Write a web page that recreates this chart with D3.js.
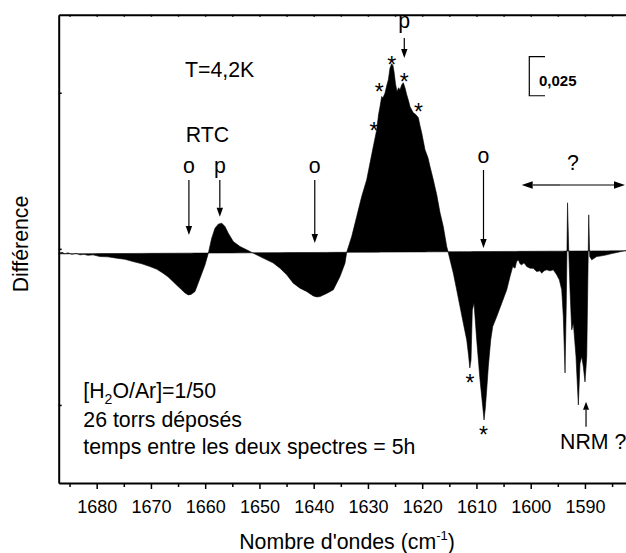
<!DOCTYPE html>
<html>
<head>
<meta charset="utf-8">
<script src="https://cdn.jsdelivr.net/npm/d3@7"></script>
<style>
  html, body { margin: 0; padding: 0; background: #fff; }
  svg { display: block; font-family: "Liberation Sans", Arial, Helvetica, sans-serif; }
</style>
</head>
<body>
<svg id="chart" width="626" height="553"></svg>
<script>
// Difference spectrum (H2O/Ar matrix, 4.2 K), bending region, in absorbance units
const wavenumbers = [
  1687.00, 1686.39, 1685.84, 1685.29, 1684.55, 1683.81, 1683.07, 1682.34, 1681.60, 1680.68,
  1679.39, 1677.91, 1676.31, 1674.78, 1673.30, 1671.65, 1670.17, 1668.88, 1667.77, 1666.85,
  1665.93, 1665.19, 1664.33, 1663.72, 1663.11, 1662.61, 1661.88, 1660.95, 1660.03, 1659.42,
  1658.80, 1658.19, 1657.58, 1656.95, 1656.35, 1655.74, 1654.82, 1653.58, 1652.35, 1651.13,
  1649.89, 1648.66, 1647.50, 1646.21, 1644.97, 1643.76, 1642.52, 1641.29, 1640.07, 1639.44,
  1638.83, 1637.60, 1636.38, 1635.15, 1634.23, 1633.91, 1632.99, 1632.07, 1631.15, 1630.23,
  1629.62, 1629.01, 1628.38, 1628.05, 1627.77, 1627.46, 1627.22, 1626.85, 1626.54, 1626.24,
  1625.93, 1625.62, 1625.38, 1625.19, 1624.92, 1624.64, 1624.36, 1624.09, 1623.77, 1623.48,
  1623.17, 1622.85, 1622.52, 1622.24, 1621.64, 1621.14, 1620.71, 1620.40, 1620.09, 1619.48,
  1618.93, 1618.56, 1617.95, 1617.32, 1616.71, 1616.11, 1615.48, 1615.18, 1614.87, 1614.26,
  1613.64, 1613.03, 1612.42, 1611.79, 1611.46, 1611.22, 1611.00, 1610.76, 1610.45, 1609.95,
  1609.34, 1608.84, 1608.60, 1608.36, 1608.11, 1607.81, 1607.37, 1607.00, 1606.26, 1605.34,
  1604.42, 1603.81, 1603.31, 1602.89, 1602.61, 1602.28, 1601.97, 1601.65, 1601.23, 1600.73,
  1600.12, 1599.52, 1598.89, 1598.28, 1597.97, 1597.54, 1597.05, 1596.44, 1595.83, 1595.20,
  1594.72, 1594.28, 1593.99, 1593.67, 1593.43, 1593.21, 1592.99, 1592.75, 1592.44, 1592.14,
  1591.65, 1591.22, 1590.91, 1590.59, 1590.30, 1589.99, 1589.67, 1589.49, 1589.30, 1589.12,
  1588.75, 1587.83, 1586.91, 1585.99, 1585.06, 1584.14, 1583.35, 1582.43, 1580.00
];

const difference = [
  -0.00288, -0.00224, -0.00321, -0.00256, -0.00353, -0.00288, -0.00385, -0.00353, -0.00417, -0.00385,
  -0.00494, -0.00513, -0.00596, -0.00673, -0.00814, -0.00962, -0.01135, -0.01314, -0.01558, -0.01795,
  -0.02096, -0.02340, -0.02628, -0.02821, -0.02949, -0.02917, -0.02737, -0.01878, -0.01026, -0.00276,
   0.00686,  0.01327,  0.01583,  0.01647,  0.01429,  0.01006,  0.00468,  0.00147, -0.00064, -0.00276,
  -0.00494, -0.00705, -0.00897, -0.01237, -0.01667, -0.02199, -0.02519, -0.02737, -0.03013, -0.03077,
  -0.03058, -0.02853, -0.02628, -0.01776, -0.00917, -0.00212,  0.00788,  0.02071,  0.03353,  0.04423,
   0.05494,  0.06558,  0.07628,  0.08590,  0.09122,  0.09763,  0.09679,  0.09981,  0.10449,  0.10833,
   0.11583,  0.11859,  0.11731,  0.11346,  0.10577,  0.10064,  0.10321,  0.10192,  0.10513,  0.10641,
   0.10321,  0.09872,  0.09487,  0.09103,  0.08718,  0.08590,  0.08397,  0.07885,  0.07436,  0.06346,
   0.05833,  0.05276,  0.04423,  0.03462,  0.02308,  0.01429,  0.00147, -0.00256, -0.00705, -0.01558,
  -0.02628, -0.03699, -0.04763, -0.05833, -0.06795, -0.07628, -0.07115, -0.03910, -0.03462, -0.05833,
  -0.08397, -0.10109, -0.10962, -0.10192, -0.09038, -0.07545, -0.05833, -0.04981, -0.04340, -0.03481,
  -0.02628, -0.01776, -0.01135, -0.01237, -0.00833, -0.00705, -0.00962, -0.01026, -0.00897, -0.01135,
  -0.01237, -0.01250, -0.01455, -0.01410, -0.01558, -0.01410, -0.01346, -0.01410, -0.01346, -0.01667,
  -0.01987, -0.02628, -0.04340, -0.07949, -0.03269,  0.02949, -0.00064, -0.02628, -0.05192, -0.04744,
  -0.06904, -0.10000, -0.07327, -0.06904, -0.07545, -0.08526, -0.06904, -0.02628,  0.02179, -0.00494,
  -0.00705, -0.00494, -0.00449, -0.00385, -0.00301, -0.00237, -0.00173, -0.00109, -0.00096
];

// Straight reference line the difference is filled against
const baselineWavenumbers = [1687, 1580];
const baselineValues = [-0.0032, -0.0012];

// Axis ticks
const majorTicks = [1680, 1670, 1660, 1650, 1640, 1630, 1620, 1610, 1600, 1590];
const minorTicks = [1685, 1675, 1665, 1655, 1645, 1635, 1625, 1615, 1605, 1595, 1585];
const yTicks = [-0.1, 0, 0.1];

// Band assignments: o = ortho, p = para
const bandLabels = ["o", "p", "o", "p", "o"];
const bandPositions = [1663.0, 1657.3, 1639.8, 1623.3, 1608.7];
const starPositions = [1628.9, 1627.9, 1625.6, 1623.3, 1620.7, 1611.2, 1608.7];
const scaleBarValue = 0.025;

const svg = d3.select("#chart");
const plotLeft = 58.7, plotTop = 14.7, plotBottom = 483;
const textSize = 21.3;

const x = d3.scaleLinear().domain([1687, 1580]).range([plotLeft, 639.2]);
const y = d3.scaleLinear().domain([-0.15, 0.15]).range([plotBottom, plotTop]);
const base = d3.scaleLinear().domain(baselineWavenumbers).range(baselineValues);

const spectrum = wavenumbers.map((w, i) => ({ w, v: difference[i] }));

// Filled difference spectrum
const area = d3.area()
  .x(d => x(d.w))
  .y0(d => y(base(d.w)))
  .y1(d => y(d.v));

svg.append("path")
  .datum(spectrum)
  .attr("d", area)
  .attr("fill", "#000")
  .attr("stroke", "#000")
  .attr("stroke-width", 0.6)
  .attr("stroke-linejoin", "round");

// Axes
const axisStyle = g => {
  g.select(".domain").attr("stroke", "#000").attr("stroke-width", 2);
  g.selectAll(".tick line").attr("stroke", "#000").attr("stroke-width", 1.5);
};

svg.append("g")
  .attr("transform", `translate(0,${plotBottom})`)
  .call(d3.axisBottom(x).tickValues(majorTicks).tickSize(6).tickSizeOuter(0)
    .tickPadding(11).tickFormat(d3.format("d")))
  .call(axisStyle)
  .call(g => g.selectAll("text").attr("font-size", 18).attr("fill", "#000")
    .attr("font-family", '"Liberation Sans", Arial, sans-serif'));

svg.append("g")
  .attr("transform", `translate(0,${plotBottom})`)
  .call(d3.axisBottom(x).tickValues(minorTicks).tickSize(4).tickSizeOuter(0).tickFormat(""))
  .call(axisStyle)
  .call(g => g.select(".domain").remove());

svg.append("g")
  .attr("transform", `translate(0,${plotTop})`)
  .call(d3.axisTop(x).tickValues(majorTicks.concat(minorTicks)).tickSize(-2).tickSizeOuter(0).tickFormat(""))
  .call(axisStyle);

svg.append("g")
  .attr("transform", `translate(${plotLeft},0)`)
  .call(d3.axisLeft(y).tickValues(yTicks).tickSize(-3).tickSizeOuter(0).tickFormat(""))
  .call(axisStyle);

// Axis titles
svg.append("text")
  .attr("x", 347).attr("y", 549)
  .attr("text-anchor", "middle")
  .attr("font-size", textSize)
  .text("Nombre d'ondes (cm")
  .call(t => t.append("tspan").attr("font-size", 13).attr("dy", -9).text("-1"))
  .call(t => t.append("tspan").attr("dy", 9).text(")"));

svg.append("text")
  .attr("transform", "translate(28,244) rotate(-90)")
  .attr("text-anchor", "middle")
  .attr("font-size", textSize)
  .text("Différence");

// Arrow helper: shaft plus filled head at (x2, y2)
function arrow(g, x1, y1, x2, y2, len = 9, half = 3.2) {
  const a = Math.atan2(y2 - y1, x2 - x1);
  const bx = x2 - len * Math.cos(a), by = y2 - len * Math.sin(a);
  g.append("line")
    .attr("x1", x1).attr("y1", y1).attr("x2", bx).attr("y2", by)
    .attr("stroke", "#000").attr("stroke-width", 1.2);
  const px = -Math.sin(a) * half, py = Math.cos(a) * half;
  g.append("path")
    .attr("d", `M${x2},${y2}L${bx + px},${by + py}L${bx - px},${by - py}Z`)
    .attr("fill", "#000");
}

const ann = svg.append("g").attr("font-size", textSize).attr("fill", "#000");

ann.append("text").attr("x", 185).attr("y", 77).text("T=4,2K");
ann.append("text").attr("x", 185.7).attr("y", 141.7).text("RTC");

// Band markers with arrows
const labelBase = [173, 173, 173, 28, 163];
const arrowFrom = [180, 180, 180, 38, 170];
const arrowTo = [235, 216.7, 243, 58, 248];
bandPositions.forEach((w, i) => {
  const cx = x(w);
  ann.append("text").attr("x", cx).attr("y", labelBase[i])
    .attr("text-anchor", "middle").text(bandLabels[i]);
  arrow(ann, cx, arrowFrom[i], cx, arrowTo[i]);
});

// Asterisks on the resolved components
const starY = [126, 87.3, 60, 77.3, 107.3, 378.3, 430];
starPositions.forEach((w, i) => {
  ann.append("text").attr("x", x(w)).attr("y", starY[i] + 13)
    .attr("text-anchor", "middle").attr("font-size", 23).text("*");
});

// Unassigned region
ann.append("text").attr("x", 573).attr("y", 170).attr("text-anchor", "middle").text("?");
arrow(ann, 560, 185, 521.7, 185, 11, 3.8);
arrow(ann, 560, 185, 625, 185, 11, 3.8);

// NRM marker
ann.append("text").attr("x", 560).attr("y", 449).text("NRM ?");
arrow(ann, x(1589.8), 426.7, x(1589.8), 401.7, 8, 3);

// Experimental conditions
const cond = ann.append("g");
cond.append("text").attr("x", 83.3).attr("y", 398)
  .text("[H")
  .call(t => t.append("tspan").attr("font-size", 14).attr("dy", 6).text("2"))
  .call(t => t.append("tspan").attr("dy", -6).text("O/Ar]=1/50"));
cond.append("text").attr("x", 83.3).attr("y", 426.5).text("26 torrs déposés");
cond.append("text").attr("x", 83.3).attr("y", 453.5).text("temps entre les deux spectres = 5h");

// Vertical scale bar
const sbTop = 56.7;
const sbLen = y(0) - y(scaleBarValue);
const sb = svg.append("g").attr("stroke", "#000").attr("stroke-width", 1.2).attr("fill", "none");
sb.append("path").attr("d", `M545,${sbTop}H529.3V${sbTop + sbLen}H545`);
svg.append("text").attr("x", 539).attr("y", 86)
  .attr("font-size", 15).attr("font-weight", "bold").text("0,025");
</script>
</body>
</html>
